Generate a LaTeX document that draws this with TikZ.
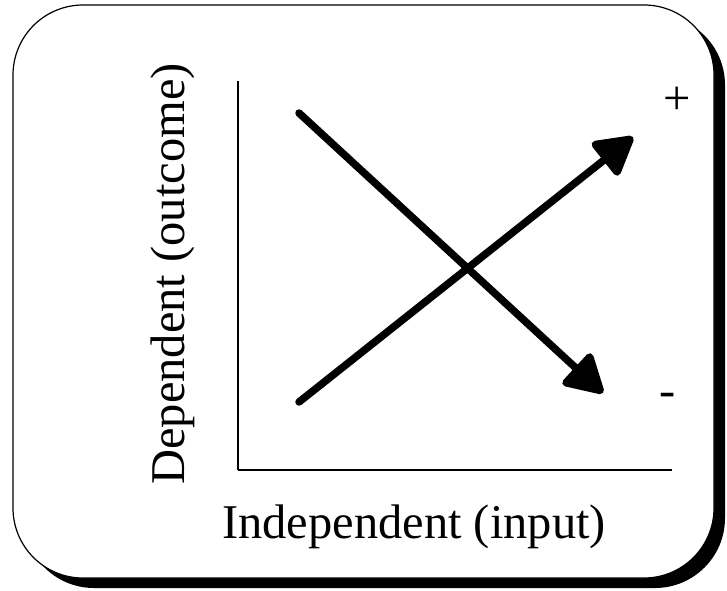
\documentclass[tikz,border=0pt]{standalone}
\usepackage{fontspec}
\setmainfont{Liberation Serif}
\usetikzlibrary{arrows.meta}

\begin{document}
\begin{tikzpicture}[x=1pt, y=-1pt,
    bigtxt/.style={inner sep=0pt, font=\fontsize{48.5}{54}\selectfont},
    trend/.style={line width=7.5pt, line cap=round,
      -{Triangle[length=42pt, width=46pt, round]}},
    axis/.style={line width=2.2pt}]
  \useasboundingbox (0,0) rectangle (727,590);
  % frame with its shadow
  \fill[black, rounded corners=70pt] (24,15) rectangle (725,588);
  \draw[fill=white, line width=1.2pt, rounded corners=70pt]
    (13,5) rectangle (714,578);
  % axes
  \coordinate (ytop) at (238,81);
  \coordinate (origin) at (238,470);
  \coordinate (xend) at (672,470);
  \draw[axis] (ytop) -- (origin);
  \draw[axis] (origin) -- (xend);
  % the two trends
  \coordinate (upstart) at (299,402);
  \coordinate (upend) at (633,137);
  \coordinate (downstart) at (299,113);
  \coordinate (downend) at (603,393);
  \draw[trend] (upstart) -- (upend);
  \draw[trend] (downstart) -- (downend);
  % labels
  \node (plus) [bigtxt] at (677,101) {+};
  \node (minus) [bigtxt] at (668,400) {-};
  \node (xlabel) [bigtxt, anchor=base] at (414,538) {Independent (input)};
  \node (ylabel) [bigtxt, anchor=base, rotate=90] at (184,274)
    {Dependent (outcome)};
\end{tikzpicture}
\end{document}
